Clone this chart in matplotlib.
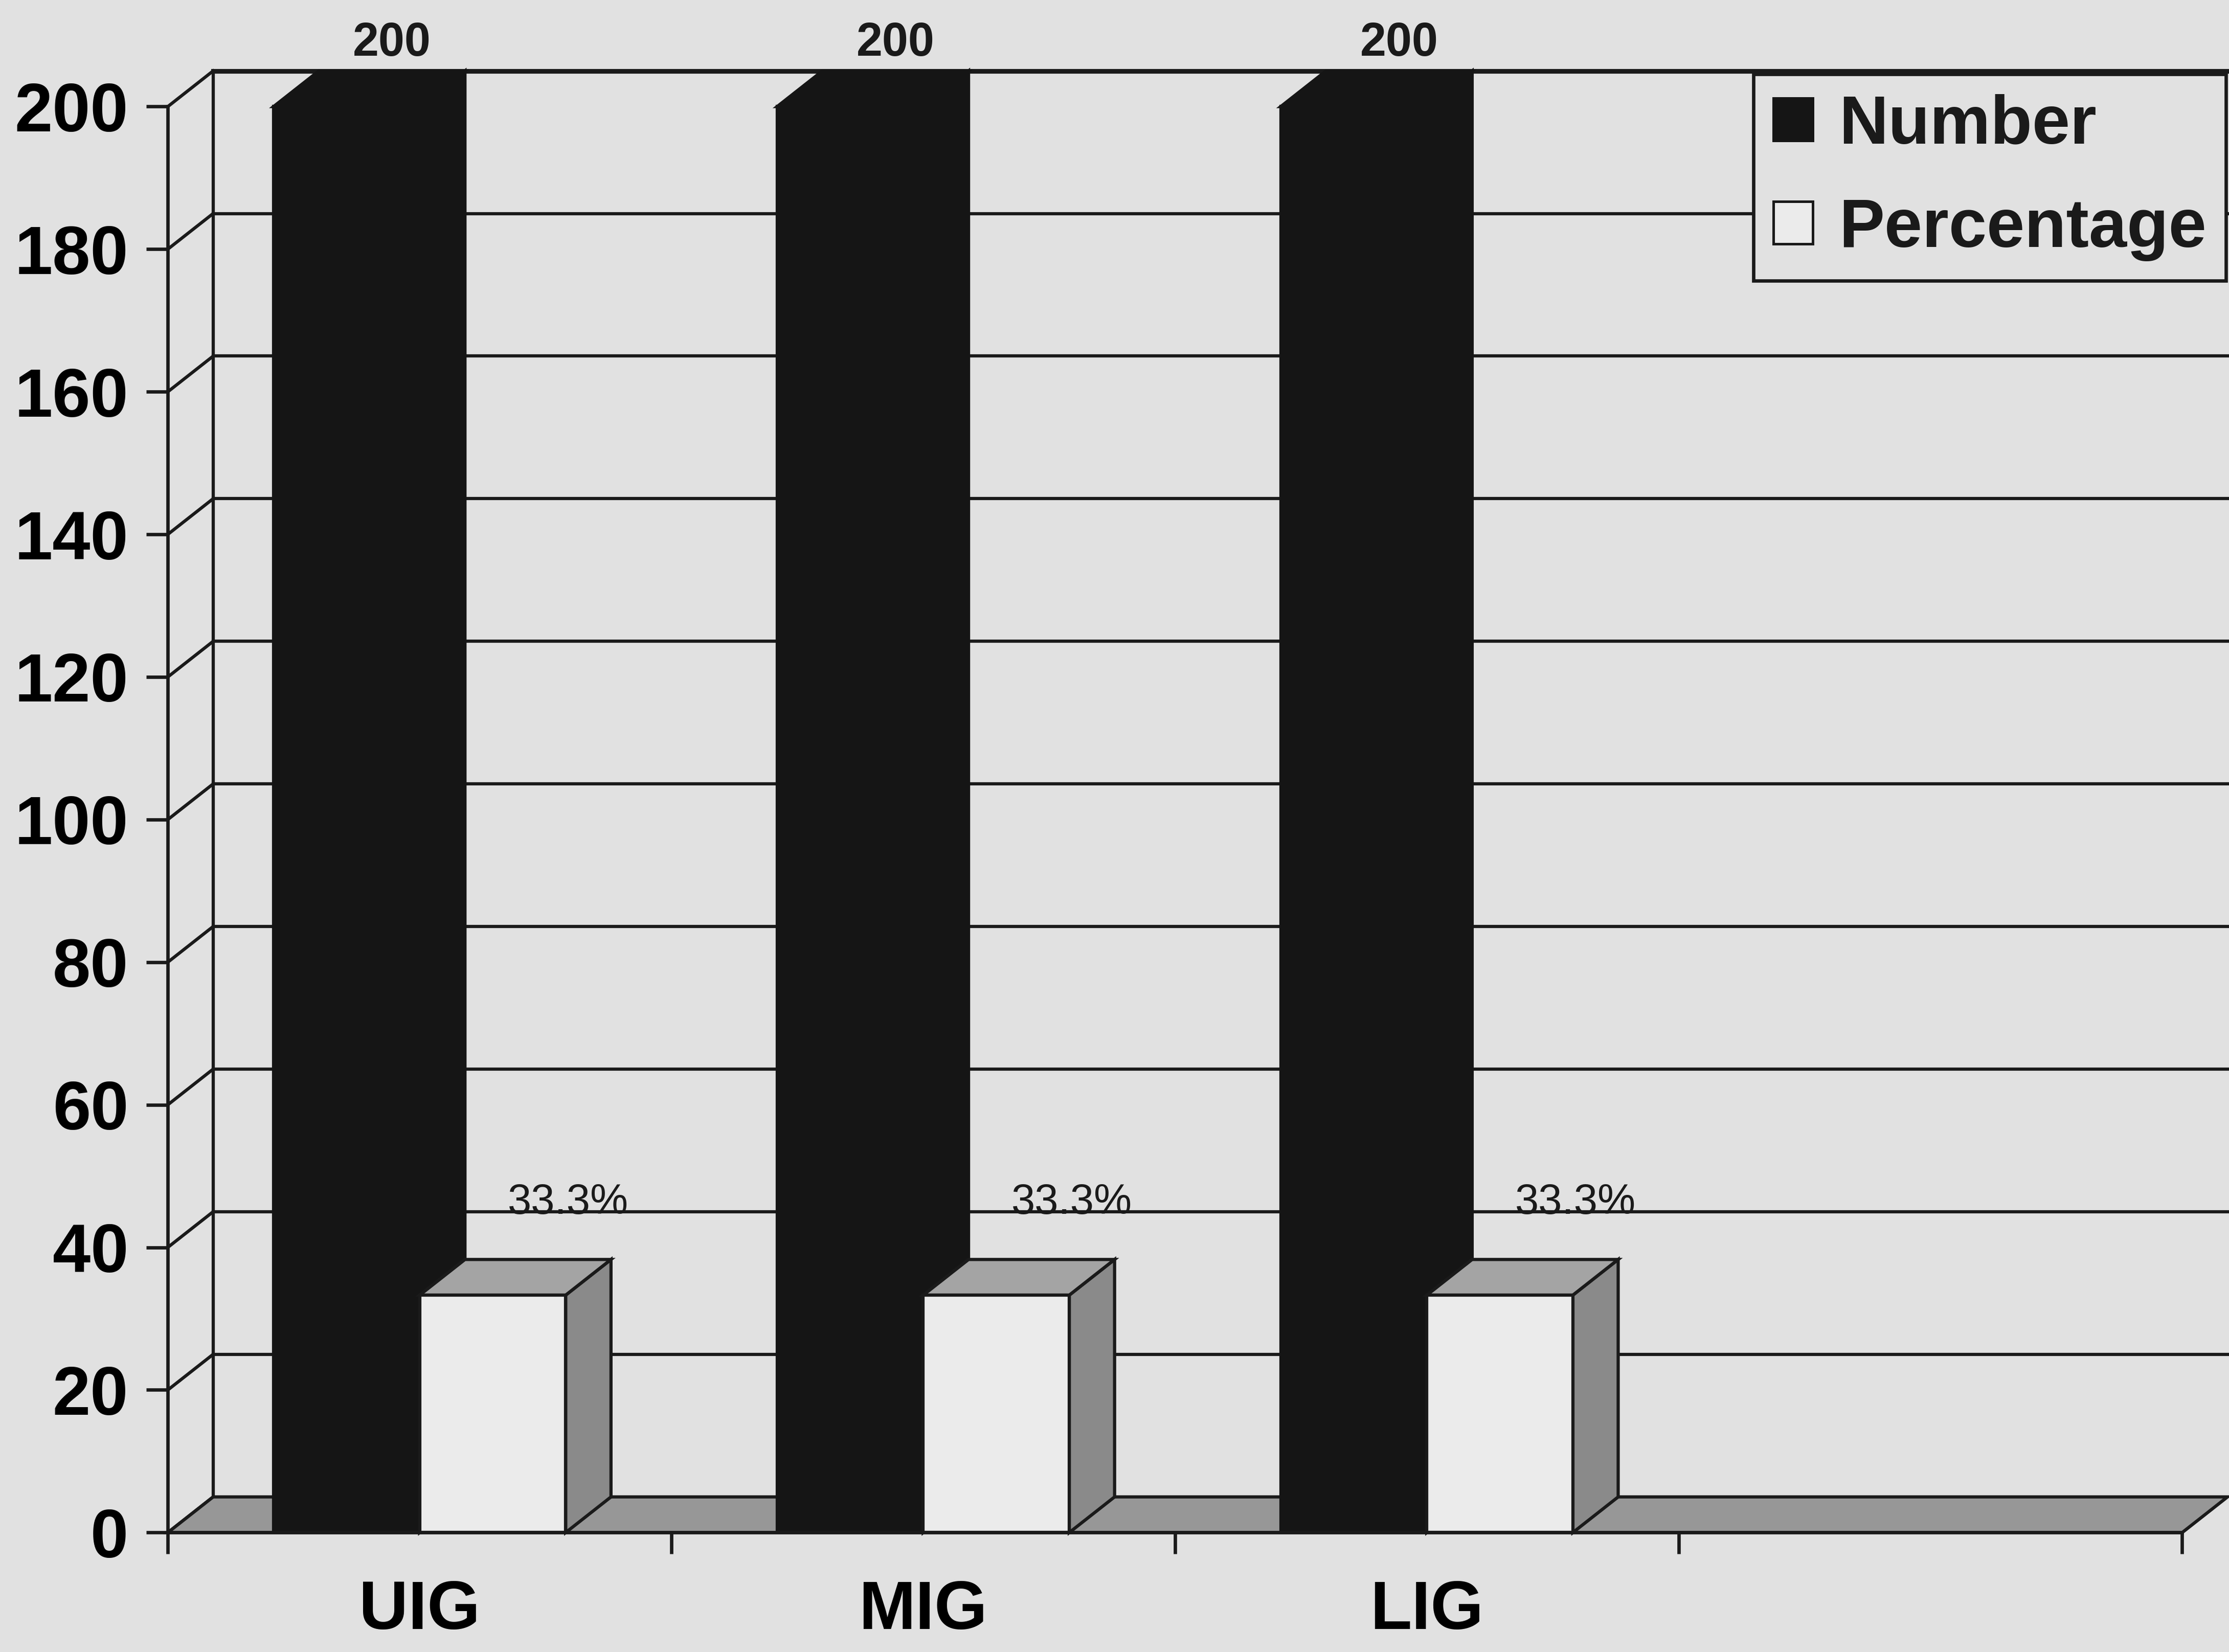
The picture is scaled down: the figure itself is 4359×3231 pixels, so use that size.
import matplotlib.pyplot as plt
from matplotlib.patches import Polygon, Patch

# groups and values
categories = ['UIG', 'MIG', 'LIG']
number = [200, 200, 200]
percentage = [33.3, 33.3, 33.3]
pct_labels = ['33.3%', '33.3%', '33.3%']
yticks = list(range(0, 201, 20))
n_slots = 4  # category axis has one empty slot on the right

bg = '#e1e1e1'
ink = '#1a1a1a'
black_bar = '#151515'
white_front = '#ebebeb'
top_grey = '#a4a4a4'
side_grey = '#8a8a8a'
floor_grey = '#979797'

plt.rcParams['font.family'] = ['Liberation Sans', 'DejaVu Sans']
plt.rcParams['text.color'] = ink

fig = plt.figure(figsize=(4359 / 300, 3231 / 300), dpi=300, facecolor=bg)
ax = fig.add_axes([0.0753, 0.0723, 0.9037, 0.8632])
ax.set_facecolor('none')
ax.set_xlim(0, n_slots)
ax.set_ylim(0, 200)

# fake depth of the 3-D box, in data units
dx, dy = 0.09, 5.0
bw = 0.29
lw = 1.5


def poly(pts, fc, ec, z):
    ax.add_patch(Polygon(pts, closed=True, facecolor=fc, edgecolor=ec,
                         linewidth=lw, clip_on=False, zorder=z))


def column(x0, h, front, top, side, ec, z):
    x1 = x0 + bw
    poly([(x1, 0), (x1 + dx, dy), (x1 + dx, h + dy), (x1, h)], side, ec, z)
    poly([(x0, h), (x1, h), (x1 + dx, h + dy), (x0 + dx, h + dy)], top, ec, z)
    poly([(x0, 0), (x1, 0), (x1, h), (x0, h)], front, ec, z)


# floor
poly([(0, 0), (n_slots, 0), (n_slots + dx, dy), (dx, dy)], floor_grey, ink, 2)

# back wall gridlines and side wall
for v in yticks:
    ax.plot([0, dx], [v, v + dy], color=ink, lw=lw, clip_on=False, zorder=1)
    if v > 0:
        ax.plot([dx, n_slots + dx], [v + dy, v + dy], color=ink,
                lw=2.2 if v == 200 else lw, clip_on=False, zorder=1)
ax.plot([dx, dx], [dy, 200 + dy], color=ink, lw=lw, clip_on=False, zorder=1)

# columns
for i, (n, p) in enumerate(zip(number, percentage)):
    xb = i + 0.5 - bw
    column(xb, n, black_bar, black_bar, black_bar, black_bar, 3)
    xw = i + 0.5
    column(xw, p, white_front, top_grey, side_grey, ink, 4)
    ax.text(xb + bw / 2 + dx, n + dy + 0.8, str(n), ha='center', va='bottom',
            fontsize=22, fontweight='bold', clip_on=False, zorder=6)
    ax.text(xw + bw + 0.005, p + 13.0, pct_labels[i], ha='center',
            va='center', fontsize=20, clip_on=False, zorder=6)

# front axes
for s in ['top', 'right']:
    ax.spines[s].set_visible(False)
for s in ['left', 'bottom']:
    ax.spines[s].set_linewidth(1.6)
    ax.spines[s].set_color(ink)
    ax.spines[s].set_zorder(5)

ax.set_yticks(yticks)
ax.set_yticklabels([str(v) for v in yticks], fontsize=32, fontweight='bold')
ax.tick_params(axis='y', length=10, width=1.6, pad=8.5, color=ink)

ax.set_xticks(range(n_slots + 1))
ax.set_xticklabels([])
ax.tick_params(axis='x', which='major', length=10, width=1.6, color=ink)
ax.set_xticks([i + 0.5 for i in range(len(categories))], minor=True)
ax.set_xticklabels(categories, minor=True, fontsize=32, fontweight='bold')
ax.tick_params(axis='x', which='minor', length=0, pad=22)

handles = [Patch(facecolor=black_bar, edgecolor=black_bar, linewidth=1.2),
           Patch(facecolor=white_front, edgecolor=ink, linewidth=1.2)]
leg = fig.legend(handles, ['Number', 'Percentage'], loc='upper right',
                 bbox_to_anchor=(0.9987, 0.9552), frameon=True, fancybox=False,
                 prop={'size': 32, 'weight': 'bold'}, handlelength=0.58,
                 handleheight=0.58, handletextpad=0.38, labelspacing=0.58,
                 borderpad=0.29, borderaxespad=0, framealpha=1)
leg.get_frame().set_facecolor(bg)
leg.get_frame().set_edgecolor(ink)
leg.get_frame().set_linewidth(1.6)

fig.savefig('out.png', dpi=300, facecolor=bg)
